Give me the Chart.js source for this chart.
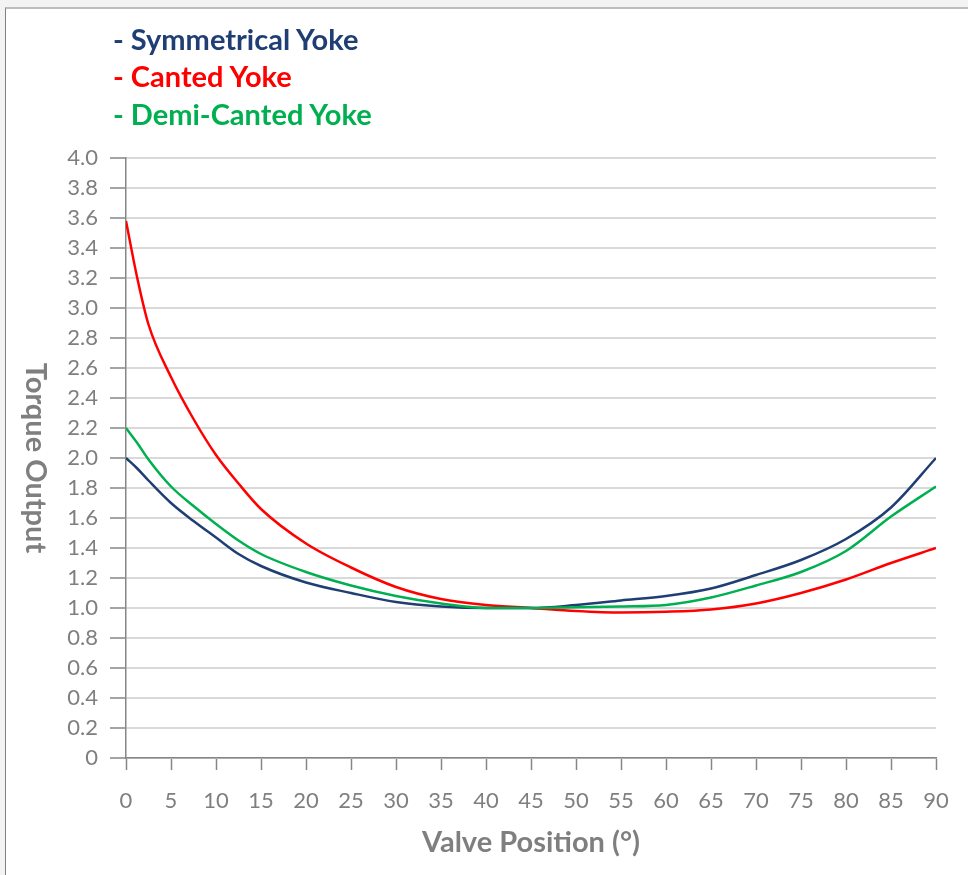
<!DOCTYPE html>
<html>
<head>
<meta charset="utf-8">
<script src="https://cdn.jsdelivr.net/npm/chart.js@4.4.0/dist/chart.umd.min.js"></script>
<style>
  html, body { margin: 0; padding: 0; background: #fff; }
  #wrap { position: relative; width: 968px; height: 875px; overflow: hidden; background: #f3f3f3; }
  #frame { position: absolute; left: 5px; top: 7px; right: 0; bottom: 0; background: #fff;
           border-left: 1px solid #808080; border-top: 2px solid #bdbdbd; }
  #chart { position: absolute; left: 0; top: 0; }
  .leg { position: absolute; left: 113px; font: bold 29px Lato, sans-serif; white-space: nowrap; line-height: 32px; }
</style>
</head>
<body>
<div id="wrap">
  <div id="frame"></div>
  <canvas id="chart" width="968" height="875"></canvas>
  <div class="leg" id="leg0" style="top:23px"></div>
  <div class="leg" id="leg1" style="top:60px"></div>
  <div class="leg" id="leg2" style="top:98px"></div>
</div>
<script>
  // valve position (degrees)
  const positions = [0, 1.25, 2.5, 5, 7.5, 10, 12.5, 15, 20, 25, 30, 35, 40, 45, 50, 55, 60, 65, 70, 75, 80, 85, 90];

  const seriesNames = ['Symmetrical Yoke', 'Canted Yoke', 'Demi-Canted Yoke'];
  const seriesColors = ['#1f3f74', '#ff0000', '#00b050'];

  const symmetrical = [2.00, 1.93, 1.85, 1.70, 1.58, 1.47, 1.36, 1.28, 1.17, 1.10, 1.04, 1.01, 1.00, 1.00, 1.02, 1.05, 1.08, 1.13, 1.22, 1.32, 1.46, 1.67, 2.00];
  const canted      = [3.58, 3.20, 2.89, 2.54, 2.26, 2.02, 1.83, 1.66, 1.43, 1.27, 1.14, 1.06, 1.02, 1.00, 0.98, 0.97, 0.975, 0.99, 1.03, 1.10, 1.19, 1.30, 1.40];
  const demiCanted  = [2.20, 2.10, 1.99, 1.81, 1.68, 1.56, 1.45, 1.36, 1.24, 1.15, 1.08, 1.03, 1.00, 1.00, 1.005, 1.01, 1.02, 1.07, 1.15, 1.24, 1.38, 1.61, 1.81];

  const xTicksStep = 5;
  const yTicksStep = 0.2;

  const yTitle = 'Torque Output';
  const xTitle = 'Valve Position (°)';

  const axisGray = '#868686';
  const textGray = '#7f7f7f';

  // legend as plain text lines
  seriesNames.forEach(function (name, i) {
    const el = document.getElementById('leg' + i);
    el.textContent = '- ' + name;
    el.style.color = seriesColors[i];
  });

  function toPoints(values) {
    return values.map(function (v, i) { return { x: positions[i], y: v }; });
  }

  // y title reads top to bottom, so draw it ourselves
  const yTitlePlugin = {
    id: 'yTitle',
    afterDraw(chart) {
      const ctx = chart.ctx;
      const area = chart.chartArea;
      ctx.save();
      ctx.translate(35, (area.top + area.bottom) / 2);
      ctx.rotate(Math.PI / 2);
      ctx.font = 'bold 29px Lato, sans-serif';
      ctx.fillStyle = textGray;
      ctx.textAlign = 'center';
      ctx.textBaseline = 'middle';
      ctx.fillText(yTitle, 0, 0);
      ctx.restore();
    }
  };

  const allSeries = [symmetrical, canted, demiCanted];
  const drawOrder = [1, 2, 0];

  new Chart(document.getElementById('chart'), {
    type: 'line',
    data: {
      datasets: allSeries.map(function (vals, i) {
        return {
          label: seriesNames[i],
          data: toPoints(vals),
          borderColor: seriesColors[i],
          borderWidth: 2.5,
          pointRadius: 0,
          fill: false,
          cubicInterpolationMode: 'monotone',
          order: drawOrder[i]
        };
      })
    },
    options: {
      responsive: false,
      animation: false,
      layout: { padding: { left: 0, top: 158, right: 32, bottom: 0 } },
      plugins: {
        legend: { display: false },
        tooltip: { enabled: false }
      },
      scales: {
        x: {
          type: 'linear',
          min: 0,
          max: 90,
          afterFit: function (scale) { scale.height = 117; },
          grid: {
            drawOnChartArea: false,
            tickLength: 12,
            tickColor: axisGray,
            tickWidth: 1.5
          },
          border: { color: axisGray, width: 1.5 },
          ticks: {
            stepSize: xTicksStep,
            padding: 18,
            color: textGray,
            font: { family: 'Lato', size: 22 },
            maxRotation: 0,
            autoSkip: false
          },
          title: {
            display: true,
            text: xTitle,
            color: textGray,
            font: { family: 'Lato', size: 29, weight: 'bold' },
            padding: { top: 0, bottom: 15 }
          }
        },
        y: {
          min: 0,
          max: 4,
          afterFit: function (scale) { scale.width = 126; },
          grid: {
            color: '#d9d9d9',
            lineWidth: 2,
            tickLength: 16,
            tickColor: axisGray,
            tickWidth: 1.5
          },
          border: { color: axisGray, width: 1.5 },
          ticks: {
            stepSize: yTicksStep,
            padding: 12,
            color: textGray,
            font: { family: 'Lato', size: 22 },
            callback: function (v) { return v === 0 ? '0' : v.toFixed(1); }
          }
        }
      }
    },
    plugins: [yTitlePlugin]
  });
</script>
</body>
</html>
